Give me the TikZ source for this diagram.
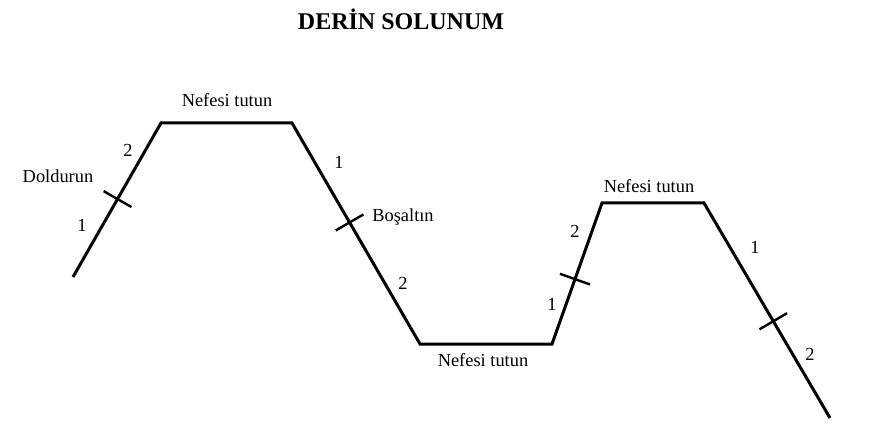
\documentclass[tikz,border=0pt]{standalone}
\usepackage{fontspec}
\setmainfont{Liberation Serif}
\usetikzlibrary{calc}

\begin{document}
\begin{tikzpicture}[
    x=0.5pt, y=-0.5pt,
    breath line/.style={black, line width=1.5pt, line join=miter},
    tick mark/.style={black, line width=1.2pt},
    phase label/.style={font=\fontsize{9.2}{11}\selectfont, anchor=base, inner sep=0pt},
    title label/.style={phase label, font=\fontsize{12}{14}\selectfont\bfseries}
]

\useasboundingbox (0,0) rectangle (872,427);

% --- 1. Title ---
\node[title label] (title) at (401,30) {DERİN SOLUNUM};

% --- 2. Breathing curve ---
\coordinate (p0) at (73,277);
\coordinate (p1) at (161,123);
\coordinate (p2) at (292,123);
\coordinate (p3) at (420,344);
\coordinate (p4) at (552,344);
\coordinate (p5) at (602,203);
\coordinate (p6) at (704,203);
\coordinate (p7) at (830,418);

\draw[breath line] (p0) -- (p1) -- (p2) -- (p3) -- (p4) -- (p5) -- (p6) -- (p7);

% --- 3. Tick marks across the slopes ---
\foreach \a/\b/\t in {p0/p1/0.506, p2/p3/0.45, p4/p5/0.46, p6/p7/0.55}{
    \coordinate (tick\a) at ($(\a)!\t!(\b)$);
    \draw[tick mark] ($(tick\a)!8pt!90:(\b)$) -- ($(tick\a)!8pt!-90:(\b)$);
}

% --- 4. Phase labels ---
\node[phase label] (hold1)   at (227,107) {Nefesi tutun};
\node[phase label] (inhale1) at (58,183)  {Doldurun};
\node[phase label] (exhale1) at (403,221) {Boşaltın};
\node[phase label] (hold2)   at (483,366) {Nefesi tutun};
\node[phase label] (hold3)   at (649,193) {Nefesi tutun};

% Counts along the slopes
\foreach \x/\y/\val [count=\i] in {
    82/232/1, 128/157/2,
    339/169/1, 403/289/2,
    552/310/1, 575/238/2,
    755/254/1, 810/360/2
}{
    \node[phase label] (count\i) at (\x,\y) {\val};
}

\end{tikzpicture}
\end{document}
